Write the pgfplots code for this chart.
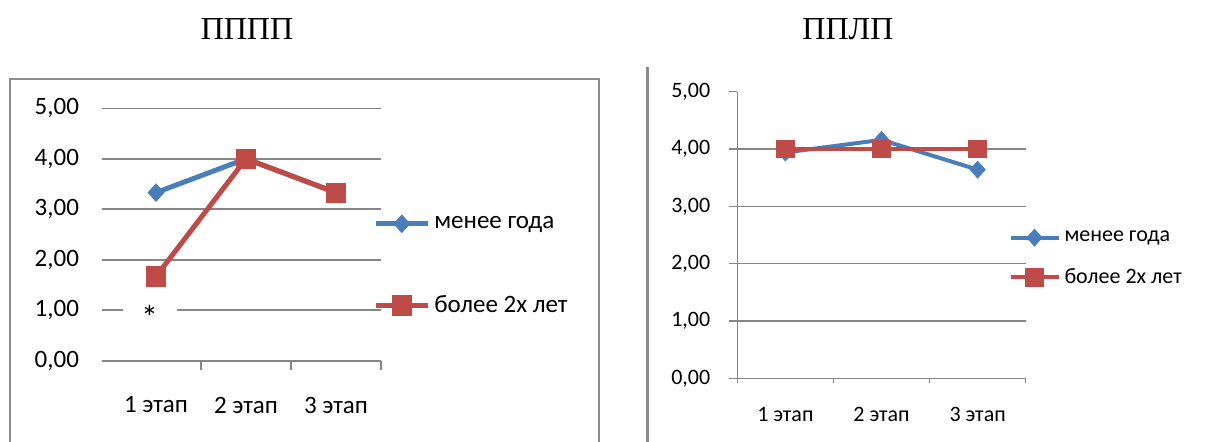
\documentclass[border=0pt]{standalone}
\usepackage{fontspec}
\usepackage{pgfplots}
\pgfplotsset{compat=1.18}
\setmainfont{Carlito}
\newfontfamily\tnr{Liberation Serif}
\definecolor{sblue}{RGB}{74,126,187}
\definecolor{sred}{RGB}{190,75,72}
\definecolor{gridgray}{RGB}{134,134,134}
\definecolor{boxgray}{RGB}{140,140,140}
\begin{document}
\begin{tikzpicture}
\useasboundingbox (0,0) rectangle (603pt,-220.5pt);
% frames
\draw[boxgray, line width=1pt] (5pt,-221pt) -- (5pt,-39.5pt) -- (299.5pt,-39.5pt) -- (299.5pt,-221pt);
\draw[boxgray, line width=1.5pt] (323.5pt,-33.5pt) -- (323.5pt,-221pt);
% titles
\node[font=\tnr\fontsize{16}{18}\selectfont] at (123.5pt,-14.5pt) {ПППП};
\node[font=\tnr\fontsize{16}{18}\selectfont] at (424pt,-14.5pt) {ППЛП};

% left chart
\begin{axis}[
  at={(55.5pt,-180.35pt)}, anchor=south west, scale only axis,
  width=135pt, height=126.2pt,
  xmin=0.5, xmax=3.5, ymin=0, ymax=5,
  xtick={1,2,3}, xticklabels={1 этап,2 этап,3 этап},
  ytick={0,1,2,3,4,5}, yticklabels={{0,00},{1,00},{2,00},{3,00},{4,00},{5,00}},
  axis line style={draw=none},
  xtick pos=bottom, ytick pos=left, tick align=outside,
  ymajorgrids, grid style={gridgray, line width=0.8pt},
  major tick length=4.5pt,
  major y tick style={gridgray, line width=0.8pt},
  major x tick style={draw=none},
  extra x ticks={1.5,2.5,3.5}, extra x tick labels={},
  extra x tick style={major x tick style={draw=gridgray, line width=0.8pt}, grid=none},
  tick label style={font=\fontsize{12.5}{14}\selectfont},
  yticklabel style={xshift=-8pt},
  xticklabel style={yshift=-10pt},
  legend style={at={(0.97,0.59)}, anchor=north west, draw=none, fill=none, inner sep=0pt,
    font=\fontsize{12.5}{14}\selectfont, row sep=28pt, cells={anchor=west}},
  legend image code/.code={\draw[mark repeat=2,mark phase=2,#1] plot coordinates {(0pt,0pt) (13pt,0pt) (26pt,0pt)};},
  clip=false,
]
\addplot[sblue, line width=2.5pt, mark=diamond*, mark size=4.4pt, mark options={line width=0.4pt, xscale=1.2}] coordinates {(1,3.33) (2,4.00) (3,3.33)};
\addplot[sred, line width=2.5pt, mark=square*, mark size=4.8pt, mark options={line width=0.4pt}] coordinates {(1,1.67) (2,4.00) (3,3.33)};
\legend{менее года, более 2х лет}
\node[fill=white, minimum width=27pt, minimum height=4pt, inner sep=0pt] at (axis cs:0.93,1) {};
\node[font=\fontsize{17}{18}\selectfont, inner sep=0pt] at (axis cs:0.93,0.86) {*};
\end{axis}

% right chart
\begin{axis}[
  at={(368.65pt,-189.15pt)}, anchor=south west, scale only axis,
  width=144.2pt, height=143.3pt,
  xmin=0.5, xmax=3.5, ymin=0, ymax=5,
  axis x line*=bottom, axis y line*=left,
  axis line style={gridgray, line width=0.6pt, -},
  xtick={1,2,3}, xticklabels={1 этап,2 этап,3 этап},
  ytick={0,1,2,3,4}, yticklabels={{0,00},{1,00},{2,00},{3,00},{4,00}},
  extra y ticks={5}, extra y tick labels={5{,}00}, extra y tick style={grid=none},
  tick align=outside,
  ymajorgrids, grid style={gridgray, line width=0.6pt},
  major tick length=4pt,
  major y tick style={gridgray, line width=0.6pt},
  major x tick style={draw=none},
  extra x ticks={0.5,1.5,2.5,3.5}, extra x tick labels={},
  extra x tick style={major x tick style={draw=gridgray, line width=0.6pt}, major tick length=2.5pt, grid=none},
  tick label style={font=\fontsize{11}{13}\selectfont},
  yticklabel style={xshift=-6pt},
  xticklabel style={yshift=-7pt},
  legend style={at={(0.939,0.53)}, anchor=north west, draw=none, fill=none, inner sep=0pt,
    font=\fontsize{11}{13}\selectfont, row sep=8pt, cells={anchor=west}},
  legend image code/.code={\draw[mark repeat=2,mark phase=2,#1] plot coordinates {(0pt,0pt) (12pt,0pt) (24pt,0pt)};},
  clip=false,
]
\addplot[sblue, line width=2pt, mark=diamond*, mark size=4.2pt, mark options={line width=0.4pt, xscale=1.2}] coordinates {(1,3.94) (2,4.16) (3,3.64)};
\addplot[sred, line width=2pt, mark=square*, mark size=4.4pt, mark options={line width=0.4pt}] coordinates {(1,4.00) (2,4.00) (3,4.00)};
\legend{менее года, более 2х лет}
\end{axis}
\end{tikzpicture}
\end{document}
